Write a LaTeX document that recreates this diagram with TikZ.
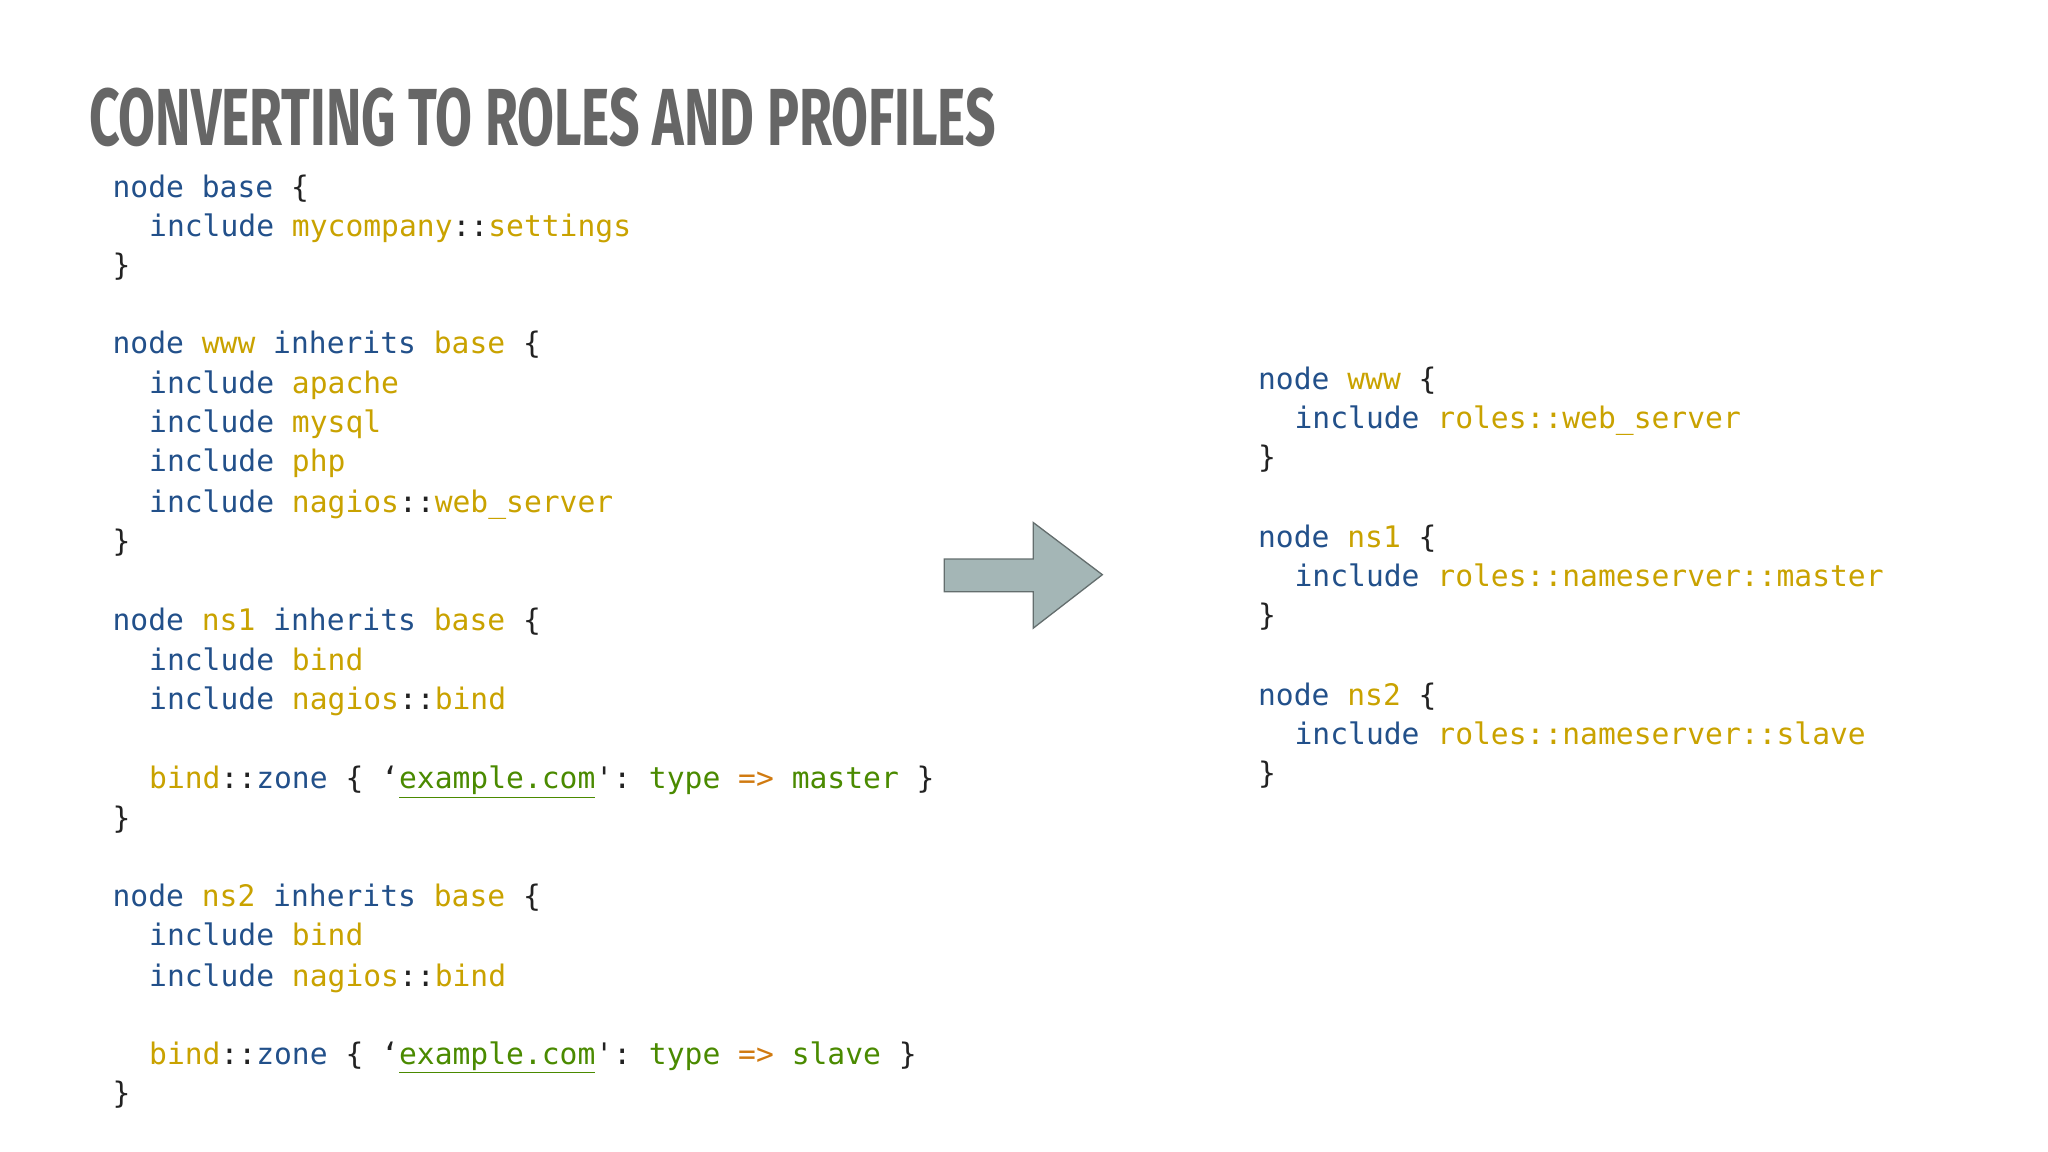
\documentclass[tikz,border=0pt]{standalone}
\usepackage{fontspec}
\setmonofont{DejaVu Sans Mono}
\setsansfont{Fira Sans}
\definecolor{kw}{HTML}{22508A}
\definecolor{yl}{HTML}{C9A200}
\definecolor{gr}{HTML}{4A8A00}
\definecolor{orn}{HTML}{D07A10}
\definecolor{dk}{HTML}{222222}
\definecolor{ttl}{HTML}{666666}
\newcommand{\cK}[1]{\textcolor{kw}{#1}}
\newcommand{\cY}[1]{\textcolor{yl}{#1}}
\newcommand{\cG}[1]{\textcolor{gr}{#1}}
\newcommand{\cD}[1]{\textcolor{dk}{#1}}
\newcommand{\cO}[1]{\textcolor{orn}{#1}}
\newcommand{\cU}[1]{\cG{\underline{#1}}}
\begin{document}
\begin{tikzpicture}[x=1pt,y=-1pt,
  code/.style={anchor=base west,inner sep=0pt,font=\fontsize{22.7}{26}\ttfamily}]
\useasboundingbox (0,0) rectangle (1568,882);
\node[anchor=west,inner sep=0pt,text=ttl] (title) at (68,90)
  {\scalebox{0.66}[1]{\fontsize{62}{62}\sffamily\bfseries CONVERTING TO ROLES AND PROFILES}};
\node[code] (l0) at (86,151) {\cK{node base} \cD{\{}};
\node[code] (l1) at (114,181) {\cK{include} \cY{mycompany}\cD{::}\cY{settings}};
\node[code] (l2) at (86,211) {\cD{\}}};
\node[code] (l4) at (86,271) {\cK{node} \cY{www} \cK{inherits} \cY{base} \cD{\{}};
\node[code] (l5) at (114,301) {\cK{include} \cY{apache}};
\node[code] (l6) at (114,331) {\cK{include} \cY{mysql}};
\node[code] (l7) at (114,361) {\cK{include} \cY{php}};
\node[code] (l8) at (114,392) {\cK{include} \cY{nagios}\cD{::}\cY{web\_server}};
\node[code] (l9) at (86,422) {\cD{\}}};
\node[code] (l11) at (86,483) {\cK{node} \cY{ns1} \cK{inherits} \cY{base} \cD{\{}};
\node[code] (l12) at (114,513) {\cK{include} \cY{bind}};
\node[code] (l13) at (114,543) {\cK{include} \cY{nagios}\cD{::}\cY{bind}};
\node[code] (l15) at (114,604) {\cY{bind}\cD{::}\cK{zone} \cD{\{} \cD{‘}\cU{example.com}\cD{'}\cD{:} \cG{type} \cO{=>} \cG{master} \cD{\}}};
\node[code] (l16) at (86,634) {\cD{\}}};
\node[code] (l18) at (86,694) {\cK{node} \cY{ns2} \cK{inherits} \cY{base} \cD{\{}};
\node[code] (l19) at (114,724) {\cK{include} \cY{bind}};
\node[code] (l20) at (114,755) {\cK{include} \cY{nagios}\cD{::}\cY{bind}};
\node[code] (l22) at (114,815) {\cY{bind}\cD{::}\cK{zone} \cD{\{} \cD{‘}\cU{example.com}\cD{'}\cD{:} \cG{type} \cO{=>} \cG{slave} \cD{\}}};
\node[code] (l23) at (86,845) {\cD{\}}};
\node[code] (r0) at (963,298) {\cK{node} \cY{www} \cD{\{}};
\node[code] (r1) at (991,328) {\cK{include} \cY{roles::web\_server}};
\node[code] (r2) at (963,358) {\cD{\}}};
\node[code] (r3) at (963,419) {\cK{node} \cY{ns1} \cD{\{}};
\node[code] (r4) at (991,449) {\cK{include} \cY{roles::nameserver::master}};
\node[code] (r5) at (963,479) {\cD{\}}};
\node[code] (r6) at (963,540) {\cK{node} \cY{ns2} \cD{\{}};
\node[code] (r7) at (991,570) {\cK{include} \cY{roles::nameserver::slave}};
\node[code] (r8) at (963,600) {\cD{\}}};
\draw[fill={rgb,255:red,164;green,182;blue,182},draw={rgb,255:red,100;green,110;blue,110},line width=1pt,line join=miter]
  (723,428) -- (791,428) -- (791,400) -- (844,440) -- (791,481) -- (791,453) -- (723,453) -- cycle;
\end{tikzpicture}
\end{document}
